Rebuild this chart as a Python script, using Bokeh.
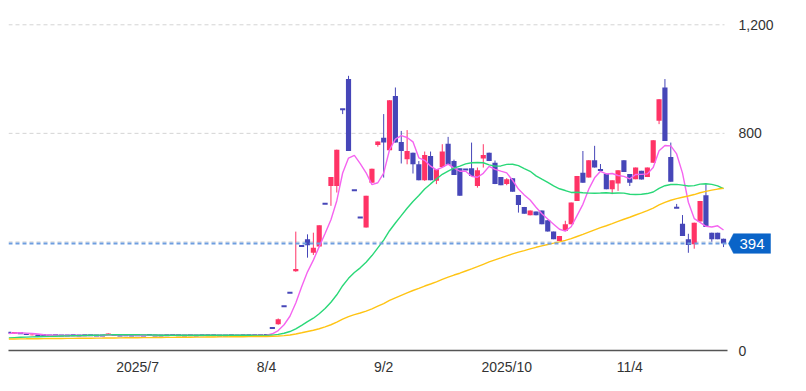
import numpy as np
import pandas as pd
from bokeh.plotting import figure
from bokeh.models import (Range1d, FixedTicker, NumeralTickFormatter, Label,
                          ColumnDataSource)
from bokeh.embed import file_html
from bokeh.resources import INLINE

# closes before the visible window (only feed the moving averages)
prior_close = [40, 41, 40, 39, 41, 40, 41, 40, 39, 40,
               41, 40, 41, 40, 39, 40, 41, 40, 39, 41,
               40, 41, 40, 39, 40, 41, 40, 41, 40, 39,
               40, 41, 40, 39, 40, 41, 40, 39, 40, 41,
               40, 39, 40, 41, 40, 39, 40, 41, 40, 39,
               38, 39, 38, 39, 40, 39, 40, 41, 40, 41,
               42, 41, 42, 43, 44, 45, 46, 48, 50, 53,
               57, 60, 63, 66]

# quiet period (no visible wicks)
flat_open = [66, 62, 65, 62, 56, 56, 55, 56, 55,
             56, 55, 55, 56, 55, 56, 56, 56, 58,
             56, 56, 55, 56, 55, 56, 55, 57, 56,
             55, 56, 57, 56, 55, 56, 55, 56, 55,
             56, 56, 55, 56, 55, 56, 56, 56, 56]
flat_close = [65, 68, 64, 57, 59, 55, 56, 55, 56,
              55, 55, 56, 55, 56, 56, 55, 55, 63,
              57, 55, 56, 55, 56, 55, 57, 55, 55,
              56, 57, 56, 55, 56, 55, 56, 56, 56,
              55, 55, 56, 55, 56, 56, 56, 56, 57]

# active period
main_open = [83, 97, 163, 213, 292, 385, 410, 360, 383, 541,
             606, 606, 889, 1000, 590, 490, 453, 618, 757, 784,
             738, 938, 768, 705, 729, 686, 627, 717, 625, 676,
             762, 698, 671, 667, 671, 606, 707, 729, 692, 639,
             613, 635, 573, 529, 498, 512, 516, 480, 438, 403,
             440, 465, 551, 655, 637, 701, 665, 651, 594, 615,
             701, 650, 631, 662, 639, 692, 846, 969, 713, 526,
             467, 410, 391, 475, 572, 434, 434, 412]
main_high = [83, 118, 163, 213, 438, 385, 428, 434, 461, 541,
             639, 740, 889, 1012, 590, 490, 570, 670, 770, 871,
             922, 969, 809, 812, 729, 698, 733, 733, 668, 760,
             787, 703, 671, 667, 766, 674, 760, 729, 700, 639,
             635, 635, 573, 529, 516, 512, 516, 480, 438, 422,
             478, 545, 643, 735, 701, 754, 687, 651, 627, 664,
             701, 650, 674, 662, 674, 775, 926, 1000, 766, 540,
             499, 430, 471, 551, 613, 434, 434, 412]
main_low = [83, 95, 163, 213, 290, 385, 342, 352, 383, 541,
            533, 582, 871, 735, 590, 490, 453, 618, 751, 637,
            738, 766, 689, 686, 652, 627, 625, 627, 613, 676,
            684, 647, 570, 667, 643, 600, 674, 698, 613, 609,
            609, 585, 508, 504, 498, 498, 465, 438, 410, 403,
            440, 465, 551, 618, 637, 674, 665, 594, 576, 588,
            658, 606, 631, 630, 639, 692, 834, 772, 622, 526,
            422, 360, 375, 475, 455, 401, 410, 381]
main_close = [83, 115, 163, 213, 300, 385, 388, 379, 461, 541,
              639, 740, 889, 735, 590, 490, 570, 670, 770, 766,
              922, 766, 735, 735, 686, 627, 720, 627, 668, 733,
              684, 647, 570, 667, 643, 664, 720, 698, 613, 609,
              631, 585, 536, 504, 516, 498, 465, 438, 410, 422,
              465, 545, 643, 618, 701, 674, 665, 594, 627, 664,
              658, 618, 674, 630, 674, 775, 926, 772, 622, 526,
              422, 389, 471, 551, 455, 410, 410, 394]

tick_bars = [22, 44, 64, 85, 106]
tick_labels = ["2025/7", "8/4", "9/2", "2025/10", "11/4"]
y_ticks = [0, 400, 800, 1200]
ma_periods = [5, 25, 75]
ma_colors = ["#F564F0", "#2AD878", "#FFC414"]

UP = "#FF3366"
DOWN = "#4646B8"
BADGE = "#0A64C8"
FONT = "Liberation Sans"

o = np.array(flat_open + main_open, dtype=float)
c = np.array(flat_close + main_close, dtype=float)
h = np.array([max(a, b) for a, b in zip(flat_open, flat_close)] + main_high, dtype=float)
l = np.array([min(a, b) for a, b in zip(flat_open, flat_close)] + main_low, dtype=float)
n = len(c)
x = np.arange(n)
last_price = main_close[-1]

series = pd.Series(prior_close + list(c))
mas = {k: series.rolling(k).mean().to_numpy()[len(prior_close):] for k in ma_periods}

colors = np.where(c > o, UP, DOWN)
src = ColumnDataSource(dict(x=x, o=o, c=c, h=h, l=l,
                            top=np.maximum(o, c), bottom=np.minimum(o, c),
                            color=colors))
doji = np.abs(c - o) < 3
dsrc = ColumnDataSource(dict(x=x[doji], y=c[doji]))

# geometry: chart area 719px wide, extra 48px on the right for the price tag
x_start = -0.03
x_plot_end = n - 1 + 0.68
plot_px = 719
extra_px = 48
px = plot_px / (x_plot_end - x_start)          # pixels per bar
x_end = x_plot_end + extra_px / px
y_end = 1260
frame_h = 342
py = frame_h / y_end                            # pixels per unit

p = figure(frame_width=plot_px + extra_px, frame_height=frame_h,
           x_range=Range1d(x_start, x_end), y_range=Range1d(0, y_end),
           y_axis_location="right", output_backend="svg", toolbar_location=None,
           min_border_left=8, min_border_top=8, min_border_right=15, min_border_bottom=30,
           outline_line_color=None, background_fill_color="white", border_fill_color="white")

# dashed horizontal grid over the chart area only
p.xgrid.visible = False
p.ygrid.visible = False
grid_end = x_plot_end - 3 / px
p.segment(x0=[x_start] * len(y_ticks), y0=y_ticks, x1=[grid_end] * len(y_ticks), y1=y_ticks,
          line_color="#d4d4d4", line_dash="4 3", line_width=1)

# candles
p.segment(x0="x", y0="l", x1="x", y1="h", color="color", line_width=1, source=src)
p.vbar(x="x", width=0.88, top="top", bottom="bottom", fill_color="color",
       line_color=None, source=src)
p.rect(x="x", y="y", width=0.88, height=2, height_units="screen",
       fill_color=DOWN, line_color=None, source=dsrc)

# moving averages
for k, col in zip(ma_periods, ma_colors):
    p.line(x, mas[k], line_color=col, line_width=1.4)

# last price line
p.segment(x0=[x_start], y0=[last_price], x1=[x_plot_end], y1=[last_price],
          line_color="#6E9EE0", line_dash="4 3", line_width=2)

# price tag
tip = x_plot_end + 1 / px
bl = x_plot_end + 6 / px
br = x_plot_end + 43 / px
half = 9.8 / py
p.patch(x=[tip, bl, br, br, bl],
        y=[last_price, last_price + half, last_price + half, last_price - half, last_price - half],
        fill_color=BADGE, line_color=BADGE, line_width=0.5)
p.add_layout(Label(x=(bl + br) / 2, y=last_price, text=str(last_price),
                   text_align="center", text_baseline="middle", text_color="white",
                   text_font=FONT, text_font_size="15px"))

# axes
xa = p.xaxis[0]
xa.ticker = FixedTicker(ticks=tick_bars)
xa.major_label_overrides = {t: s for t, s in zip(tick_bars, tick_labels)}
xa.bounds = (x_start, x_plot_end)
xa.axis_line_color = "#555555"
xa.axis_line_width = 1.5
xa.major_tick_line_color = None
xa.minor_tick_line_color = None
xa.major_tick_out = 0
xa.major_tick_in = 0
xa.major_label_standoff = 8
xa.major_label_text_font = FONT
xa.major_label_text_font_size = "14px"
xa.major_label_text_color = "#333333"

ya = p.yaxis[0]
ya.ticker = FixedTicker(ticks=y_ticks)
ya.formatter = NumeralTickFormatter(format="0,0")
ya.major_label_overrides = {400: ""}
ya.axis_line_color = None
ya.major_tick_line_color = None
ya.minor_tick_line_color = None
ya.major_tick_out = 0
ya.major_tick_in = 0
ya.major_label_standoff = 11 - extra_px
ya.major_label_text_font = FONT
ya.major_label_text_font_size = "14px"
ya.major_label_text_color = "#333333"

open("out.html", "w").write(file_html(p, INLINE))
